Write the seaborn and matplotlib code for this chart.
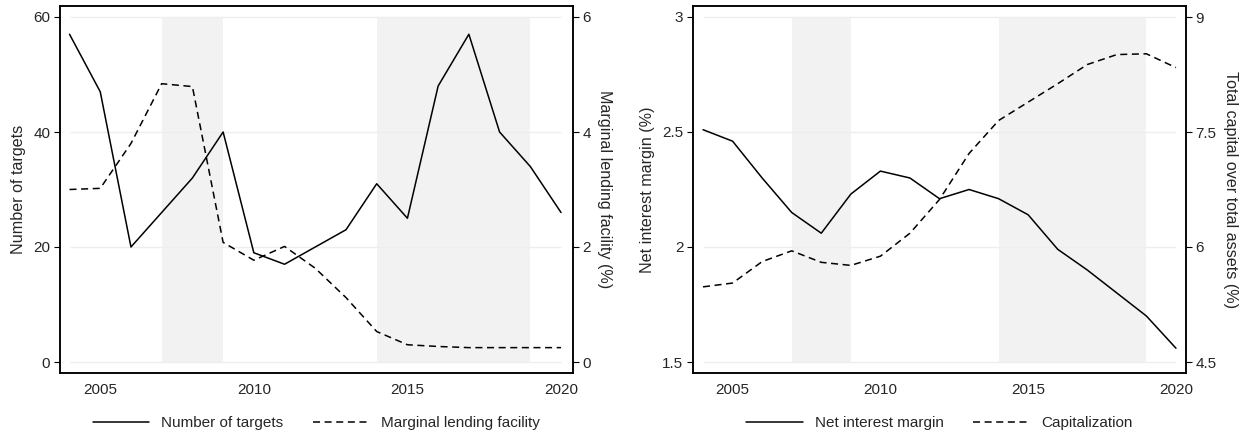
import numpy as np
import pandas as pd
import matplotlib.pyplot as plt
import seaborn as sns
from matplotlib.lines import Line2D

years = list(range(2004, 2021))
n_targets = [57, 47, 20, 26, 32, 40, 19, 17, 20, 23, 31, 25, 48, 57, 40, 34, 26]
mlf = [3.00, 3.02, 3.80, 4.84, 4.79, 2.08, 1.77, 2.01, 1.63, 1.12, 0.53, 0.30, 0.27, 0.25, 0.25, 0.25, 0.25]
nim = [2.51, 2.46, 2.30, 2.15, 2.06, 2.23, 2.33, 2.30, 2.21, 2.25, 2.21, 2.14, 1.99, 1.90, 1.80, 1.70, 1.56]
capital = [5.48, 5.53, 5.81, 5.95, 5.80, 5.76, 5.88, 6.18, 6.62, 7.22, 7.65, 7.89, 8.13, 8.38, 8.51, 8.52, 8.34]
shade_periods = [(2007, 2009), (2014, 2019)]

sns.set_style("white")
plt.rcParams['font.family'] = ['Liberation Sans', 'DejaVu Sans']
plt.rcParams['font.size'] = 11

df = pd.DataFrame({"year": years, "targets": n_targets, "mlf": mlf,
                   "nim": nim, "capital": capital})

DASH = (0, (4.6, 3))


def panel(ax, left_col, right_col, left_lim, right_lim, left_ticks, right_ticks,
          left_label, right_label, left_name, right_name, xpads):
    lo, hi = left_lim
    # shaded periods + grid only over the data range (Stata style)
    for a, b in shade_periods:
        ax.fill_between([a, b], lo, hi, color="#f2f2f2", lw=0, zorder=0)
    ax.hlines(left_ticks, years[0], years[-1], color="#eeeeee", lw=1, zorder=0.5)
    sns.lineplot(data=df, x="year", y=left_col, ax=ax, color="black", lw=1.1, zorder=3)
    ax2 = ax.twinx()
    sns.lineplot(data=df, x="year", y=right_col, ax=ax2, color="black", lw=1.1,
                 linestyle=DASH, zorder=3)
    pad = (hi - lo) * 11 / 345
    ax.set_ylim(lo - pad, hi + pad)
    rlo, rhi = right_lim
    rpad = (rhi - rlo) * 11 / 345
    ax2.set_ylim(rlo - rpad, rhi + rpad)
    ax.set_xlim(years[0] - xpads[0], years[-1] + xpads[1])
    ax.set_yticks(left_ticks)
    ax.set_yticklabels([f"{v:g}" for v in left_ticks])
    ax2.set_yticks(right_ticks)
    ax2.set_yticklabels([f"{v:g}" for v in right_ticks])
    ax.set_xticks([2005, 2010, 2015, 2020])
    ax.set_xlabel("")
    ax.set_ylabel(left_label, labelpad=5, fontsize=11.6)
    ax2.set_ylabel(right_label, rotation=270, labelpad=15, fontsize=11.6)
    for a in (ax, ax2):
        a.tick_params(direction="out", length=4, width=0.8, color="black", pad=3)
        for s in a.spines.values():
            s.set_color("black")
            s.set_linewidth(1.1)
    handles = [Line2D([], [], color="black", lw=1.1),
               Line2D([], [], color="black", lw=1.1, linestyle=DASH)]
    ax.legend(handles, [left_name, right_name], loc="center",
              bbox_to_anchor=(0.5, -50 / 367), ncol=2, frameon=False,
              handlelength=3.7, columnspacing=1.9, handletextpad=0.8)
    return ax2


fig = plt.figure(figsize=(12.47, 4.34), dpi=100)
W, H = 1247, 434
ax_l = fig.add_axes([60 / W, 1 - 373 / H, (573 - 60) / W, (373 - 6) / H])
ax_r = fig.add_axes([693 / W, 1 - 373 / H, (1186 - 693) / W, (373 - 6) / H])

panel(ax_l, "targets", "mlf", (0, 60), (0, 6), [0, 20, 40, 60], [0, 2, 4, 6],
      "Number of targets", "Marginal lending facility (%)",
      "Number of targets", "Marginal lending facility", (0.31, 0.39))
panel(ax_r, "nim", "capital", (1.5, 3), (4.5, 9), [1.5, 2, 2.5, 3], [4.5, 6, 7.5, 9],
      "Net interest margin (%)", "Total capital over total assets (%)",
      "Net interest margin", "Capitalization", (0.34, 0.34))

fig.savefig("out.png", dpi=100)
